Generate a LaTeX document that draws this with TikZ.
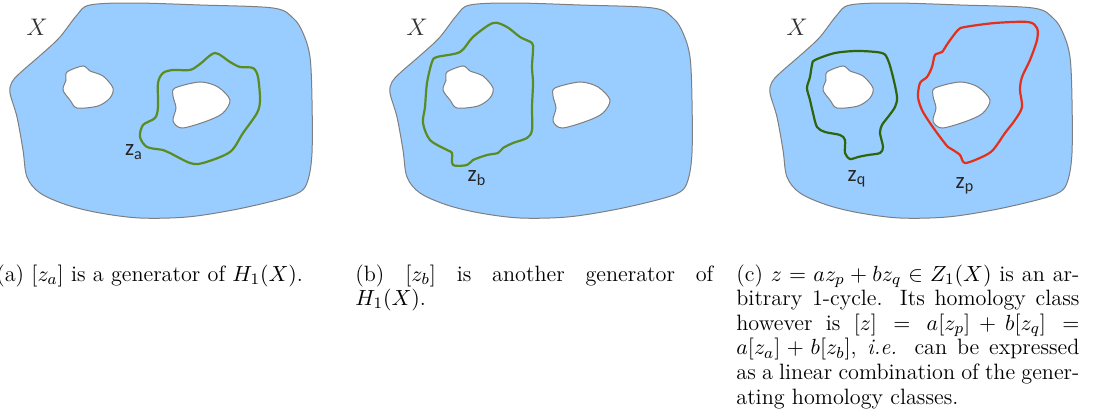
\documentclass[tikz,border=0pt]{standalone}
\usepackage{amsmath,amssymb}
\usepackage{fontspec}
\newfontfamily\lblfont{Carlito}
\usepackage{tikz}
\definecolor{cSpace}{HTML}{99CCFF}
\definecolor{cEdge}{HTML}{7F7F7F}
\definecolor{cGreen}{HTML}{5B8C22}
\definecolor{cDark}{HTML}{2F650A}
\definecolor{cRed}{HTML}{E2301A}
\definecolor{cText}{HTML}{333333}
\newcommand{\outerpts}{(90,5) (133,3) (200,5) (273,8) (293,18) (303,33) (310,57)
  (312,100) (312,153) (308,180) (300,192) (277,200) (233,210) (187,217)
  (140,218) (100,213) (67,205) (40,193) (27,177) (23,150) (17,117) (10,93)
  (12,82) (20,73) (43,53) (60,37) (77,15)}
\newcommand{\holeApts}{(67,72) (83,66) (90,71) (103,76) (113,88) (110,98)
  (98,106) (77,108) (70,100) (63,90) (66,80)}
\newcommand{\holeBpts}{(175,88) (200,82) (218,87) (230,100) (223,113)
  (207,121) (182,128) (173,121) (176,108) (173,96)}
\tikzset{
  space/.style={fill=cSpace, draw=cEdge, line width=0.5pt, even odd rule},
  cycle/.style={draw=#1, line width=1.1pt, line join=round},
  cycle/.default=cGreen,
  zlabel/.style={font=\lblfont\fontsize{11.5}{13}\selectfont, text=black!85, inner sep=0pt},
  xlabel/.style={font=\fontsize{12}{14}\selectfont, text=cText, inner sep=0pt},
  caption/.style={font=\fontsize{11.1}{12.3}\selectfont, align=justify,
    inner sep=0pt, anchor=north west},
}
\begin{document}
\begin{tikzpicture}[x=0.5pt, y=-0.5pt]
  \useasboundingbox (0,0) rectangle (1105,412);

  % the space X with two holes, once per panel
  \foreach \dx/\nm in {0/a, 380/b, 760/c} {
    \begin{scope}[xshift=\dx*0.5pt]
      \path[space] plot[smooth cycle, tension=0.55] coordinates {\outerpts}
        plot[smooth cycle, tension=0.5] coordinates {\holeApts}
        plot[smooth cycle, tension=0.5] coordinates {\holeBpts};
      \node[xlabel] (X\nm) at (37,27) {$X$};
    \end{scope}
  }

  % panel (a): cycle round the right hole
  \draw[cycle] plot[smooth cycle, tension=0.5] coordinates {
    (190,70) (200,64) (215,53) (230,62) (240,67) (253,68) (258,77) (260,100)
    (257,113) (243,133) (230,152) (203,163) (190,163) (170,153) (163,150)
    (147,147) (140,137) (143,125) (155,118) (158,107) (158,83) (163,73) (173,70)};
  \node[zlabel] (za) at (134,152) {z\textsubscript{a}};

  % panel (b): cycle round the left hole
  \begin{scope}[xshift=190pt]
    \draw[cycle] plot[smooth cycle, tension=0.5] coordinates {
      (57,57) (80,52) (93,37) (113,23) (127,27) (140,37) (152,43) (153,50)
      (152,67) (153,83) (152,107) (152,130) (147,138) (133,143) (123,148)
      (118,153) (107,155) (93,160) (87,165) (73,165) (72,153) (67,150)
      (50,140) (43,123) (45,107) (47,83) (52,62)};
    \node[zlabel] (zb) at (97,178) {z\textsubscript{b}};
  \end{scope}

  % panel (c): one cycle round each hole
  \begin{scope}[xshift=380pt]
    \draw[cycle=cDark] plot[smooth cycle, tension=0.5] coordinates {
      (55,60) (75,53) (98,51) (122,53) (128,60) (133,77) (137,97) (135,107)
      (128,117) (122,125) (120,133) (123,147) (120,153) (108,155) (98,157)
      (90,159) (85,153) (85,140) (80,135) (65,132) (57,127) (53,113) (50,100)
      (47,88) (50,77) (52,65)};
    \draw[cycle=cRed] plot[smooth cycle, tension=0.5] coordinates {
      (205,27) (235,23) (268,22) (277,28) (277,40) (270,60) (262,77) (260,90)
      (262,107) (255,120) (245,133) (233,150) (222,157) (205,163) (200,155)
      (193,150) (188,147) (180,137) (170,123) (162,110) (158,97) (160,83)
      (167,77) (172,67) (175,55) (182,52) (188,43) (198,30)};
    \node[zlabel] (zq) at (97,179) {z\textsubscript{q}};
    \node[zlabel] (zp) at (205,186) {z\textsubscript{p}};
  \end{scope}

  % captions
  \node[caption, text width=180pt] (capa) at (-4,264)
    {(a) $[z_a]$ is a generator of $H_1(X)$.};
  \node[caption, text width=179pt] (capb) at (355,264)
    {(b) $[z_b]$ is another generator of\linebreak $H_1(X)$.};
  \node[caption, text width=171.5pt] (capc) at (736,264)
    {(c) $z = az_p + bz_q \in Z_1(X)$ is an ar-\linebreak
     bitrary 1-cycle. Its homology class\linebreak
     however is $[z] = a[z_p] + b[z_q] =$\linebreak
     $a[z_a] + b[z_b]$, \emph{i.e.} can be expressed\linebreak
     as a linear combination of the gener-\linebreak
     ating homology classes.};

\end{tikzpicture}
\end{document}
